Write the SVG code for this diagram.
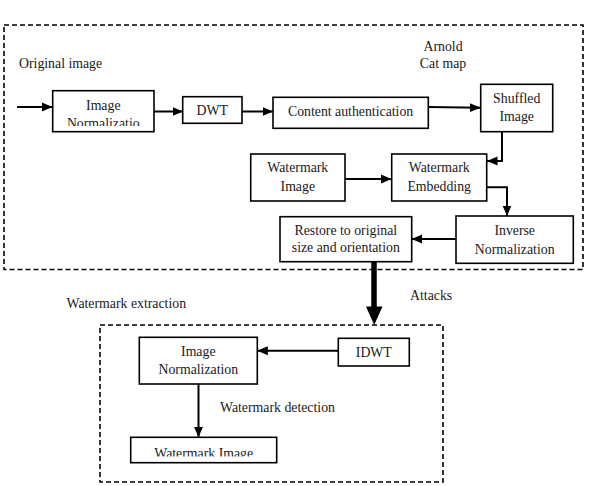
<svg xmlns="http://www.w3.org/2000/svg" width="589" height="486" viewBox="0 0 589 486">
<style>
.box{fill:#fff;stroke:#000;stroke-width:1.6}
.dash{fill:none;stroke:#000;stroke-width:1.6;stroke-dasharray:5 3}
.ln{fill:none;stroke:#000;stroke-width:2}
.t{font-family:'Liberation Serif','DejaVu Serif',serif;font-size:13.8px;fill:#1a1a1a}
.c{text-anchor:middle}
</style>
<defs>
<marker id="ah" markerUnits="userSpaceOnUse" markerWidth="11" markerHeight="10" refX="10.5" refY="5" orient="auto">
<path d="M0,0.5 L10.5,5 L0,9.5 z" fill="#000"/>
</marker>
<clipPath id="clipA"><rect x="52" y="90" width="103" height="36"/></clipPath>
<clipPath id="clipB"><rect x="130" y="437" width="147" height="19.5"/></clipPath>
</defs>
<g class="t" font-family="Liberation Serif, DejaVu Serif, serif">
<rect class="dash" x="4" y="25" width="579" height="244.5"/>
<rect class="dash" x="100" y="325" width="343" height="157"/>
<text x="19" y="68">Original image</text>
<text class="c" x="443" y="51">Arnold</text>
<text class="c" x="443" y="67.5">Cat map</text>
<text x="410" y="299.5">Attacks</text>
<text x="66.5" y="308">Watermark extraction</text>
<text x="220" y="411.5">Watermark detection</text>
<g id="connectors">
<line class="ln" x1="17" y1="107" x2="52.5" y2="107" marker-end="url(#ah)"/>
<line class="ln" x1="154" y1="111.5" x2="183" y2="111.5" marker-end="url(#ah)"/>
<line class="ln" x1="242" y1="111.5" x2="273" y2="111.5" marker-end="url(#ah)"/>
<line class="ln" x1="428" y1="107" x2="480.5" y2="107.8" marker-end="url(#ah)"/>
<polyline class="ln" points="502,131.7 502,161 487,161" marker-end="url(#ah)"/>
<line class="ln" x1="345" y1="179" x2="391.5" y2="179" marker-end="url(#ah)"/>
<polyline class="ln" points="486.7,187.3 507,187.3 507,216" marker-end="url(#ah)"/>
<line class="ln" x1="456" y1="239" x2="411.7" y2="239" marker-end="url(#ah)"/>
<line x1="374" y1="261.7" x2="374" y2="308" stroke="#000" stroke-width="5.5"/>
<path d="M366,306.5 L382.5,306.5 L374.2,325 z" fill="#000"/>
<line class="ln" x1="338.3" y1="350.7" x2="257.3" y2="350.7" marker-end="url(#ah)"/>
<line class="ln" x1="198.5" y1="384" x2="198.5" y2="437.3" marker-end="url(#ah)"/>
</g>
<g id="img-norm">
<rect class="box" x="52.7" y="90.7" width="101.3" height="41"/>
<text class="c" x="103.3" y="110">Image</text>
<text class="c" x="103.3" y="127.5" clip-path="url(#clipA)">Normalizatio</text>
</g>
<g id="dwt">
<rect class="box" x="182.7" y="96.7" width="59.3" height="26.6"/>
<text class="c" x="212.3" y="115">DWT</text>
</g>
<g id="content-auth">
<rect class="box" x="273" y="97.3" width="155.3" height="31"/>
<text class="c" x="350.6" y="116">Content authentication</text>
</g>
<g id="shuffled">
<rect class="box" x="480.7" y="84.3" width="72" height="47.4"/>
<text class="c" x="516.7" y="102.5">Shuffled</text>
<text class="c" x="516.7" y="121">Image</text>
</g>
<g id="wm-image">
<rect class="box" x="250.7" y="154" width="94.3" height="47"/>
<text class="c" x="297.8" y="172">Watermark</text>
<text class="c" x="297.8" y="190.5">Image</text>
</g>
<g id="wm-embed">
<rect class="box" x="391.7" y="154" width="95" height="47"/>
<text class="c" x="439.2" y="172">Watermark</text>
<text class="c" x="439.2" y="190.5">Embedding</text>
</g>
<g id="inv-norm">
<rect class="box" x="456" y="216" width="117.3" height="47.3"/>
<text class="c" x="514.7" y="234.5">Inverse</text>
<text class="c" x="514.7" y="253.5">Normalization</text>
</g>
<g id="restore">
<rect class="box" x="280" y="216.7" width="131.7" height="45"/>
<text class="c" x="345.8" y="234.5">Restore to original</text>
<text class="c" x="345.8" y="252">size and orientation</text>
</g>
<g id="idwt">
<rect class="box" x="338.3" y="338.3" width="71" height="27.7"/>
<text class="c" x="373.8" y="356.5">IDWT</text>
</g>
<g id="img-norm2">
<rect class="box" x="139.3" y="337.3" width="118" height="46.7"/>
<text class="c" x="198.3" y="355.5">Image</text>
<text class="c" x="198.3" y="373.5">Normalization</text>
</g>
<g id="wm-image2">
<rect class="box" x="130.7" y="437.3" width="146" height="25.4"/>
<text class="c" x="203.7" y="457.5" clip-path="url(#clipB)">Watermark Image</text>
</g>
</g>
</svg>
